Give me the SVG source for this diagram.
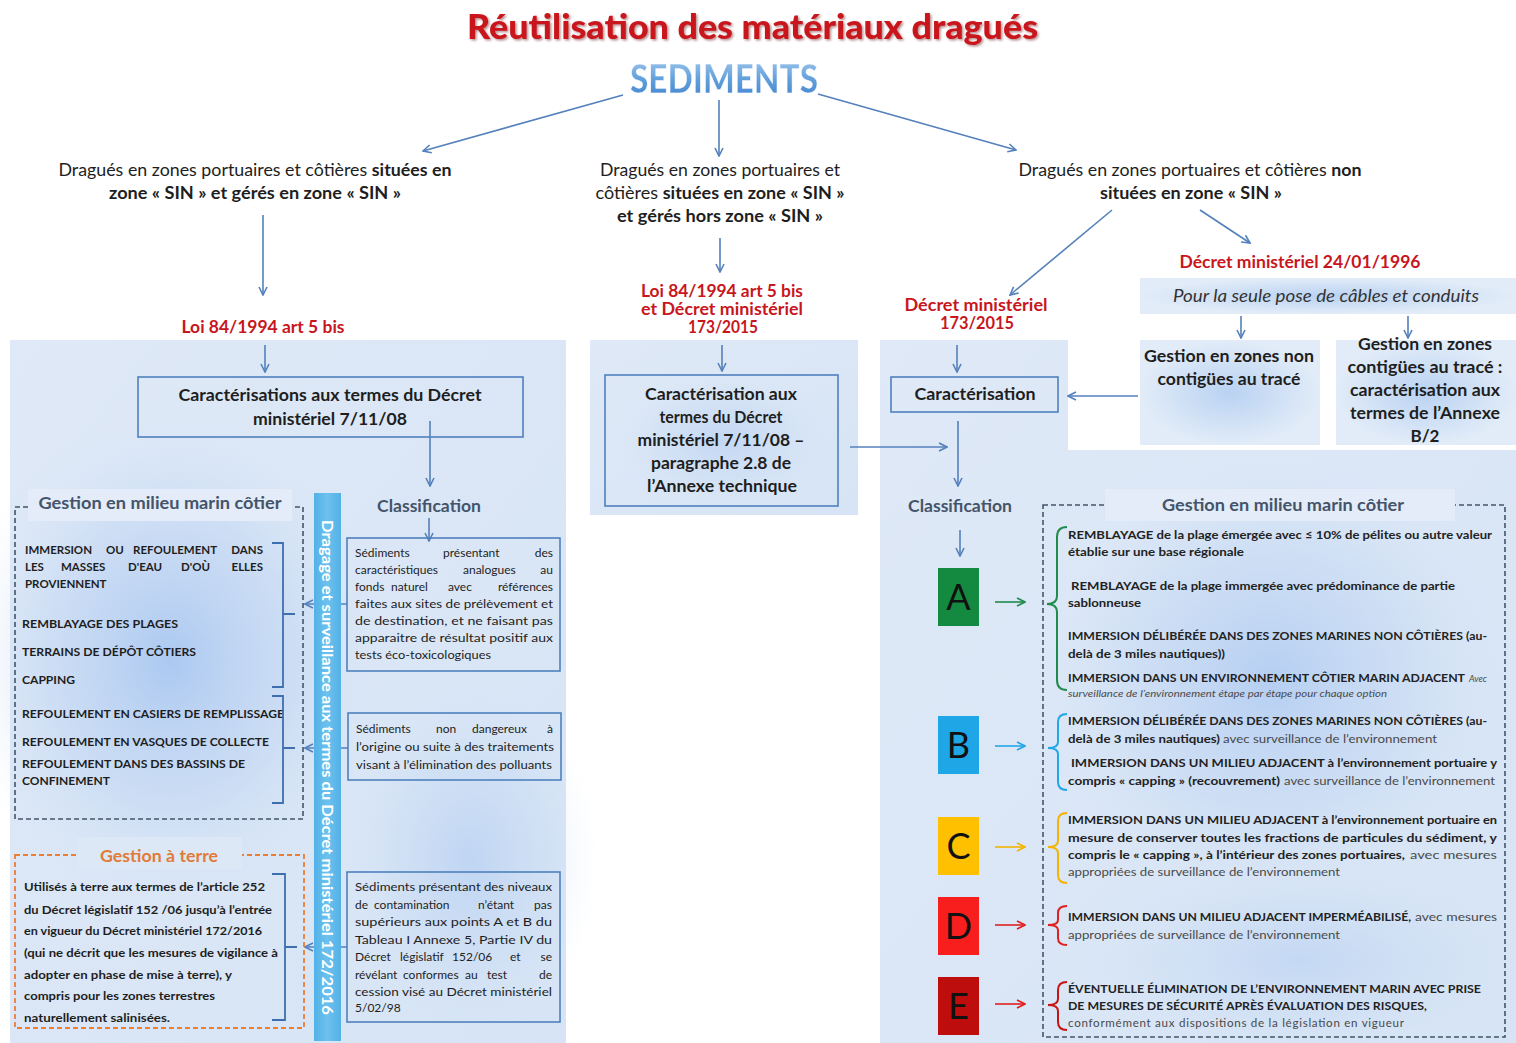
<svg xmlns="http://www.w3.org/2000/svg" width="1516" height="1043" viewBox="0 0 1516 1043">
  <style>
    text { font-family: Lato, "Liberation Sans", sans-serif; fill: #1e1e1e; }
    .b { font-weight: 700; }
    .red { fill: #c8161d; font-weight: 700; font-size: 16.5px; text-anchor: middle; }
    .hd { fill: #44546a; font-weight: 700; font-size: 17px; text-anchor: middle; }
    .top { font-size: 16.5px; text-anchor: middle; }
    .bx { font-size: 17px; font-weight: 700; text-anchor: middle; }
    .box { fill: none; stroke: #4f81bd; stroke-width: 1.6; }
    .cap { font-size: 11.5px; font-weight: 700; }
    .sm { font-size: 12px; }
    .rt { font-size: 11.6px; font-weight: 700; fill: #222; }
    .rn { font-size: 11.6px; font-weight: 400; fill: #4a4a4a; }
    .con { fill: none; stroke: #5481bb; stroke-width: 1.6; }
    .brk { fill: none; stroke: #3d6fae; stroke-width: 1.8; }
    .e { text-anchor: end; }
    .letter { font-size: 36px; text-anchor: middle; fill: #111; }
  </style>
  <defs>
    <marker id="ah" viewBox="0 0 10 10" refX="9" refY="5" markerWidth="10" markerHeight="10" markerUnits="userSpaceOnUse" orient="auto">
      <path d="M1,1 L9,5 L1,9" fill="none" stroke="#5481bb" stroke-width="1.6"/>
    </marker>
    <marker id="ahA" viewBox="0 0 10 10" refX="9" refY="5" markerWidth="10" markerHeight="10" markerUnits="userSpaceOnUse" orient="auto">
      <path d="M1,1 L9,5 L1,9" fill="none" stroke="#1f8b4c" stroke-width="1.6"/>
    </marker>
    <marker id="ahB" viewBox="0 0 10 10" refX="9" refY="5" markerWidth="10" markerHeight="10" markerUnits="userSpaceOnUse" orient="auto">
      <path d="M1,1 L9,5 L1,9" fill="none" stroke="#22a7e6" stroke-width="1.6"/>
    </marker>
    <marker id="ahC" viewBox="0 0 10 10" refX="9" refY="5" markerWidth="10" markerHeight="10" markerUnits="userSpaceOnUse" orient="auto">
      <path d="M1,1 L9,5 L1,9" fill="none" stroke="#f2b400" stroke-width="1.6"/>
    </marker>
    <marker id="ahD" viewBox="0 0 10 10" refX="9" refY="5" markerWidth="10" markerHeight="10" markerUnits="userSpaceOnUse" orient="auto">
      <path d="M1,1 L9,5 L1,9" fill="none" stroke="#e02020" stroke-width="1.6"/>
    </marker>
    <linearGradient id="panel" x1="0" y1="0" x2="1" y2="1">
      <stop offset="0" stop-color="#dfe9f7"/>
      <stop offset="1" stop-color="#d6e4f5"/>
    </linearGradient>
    <radialGradient id="blob">
      <stop offset="0" stop-color="#a3c3f0" stop-opacity="0.85"/>
      <stop offset="0.6" stop-color="#bcd3f2" stop-opacity="0.45"/>
      <stop offset="1" stop-color="#d8e6f6" stop-opacity="0"/>
    </radialGradient>
    <radialGradient id="soft">
      <stop offset="0" stop-color="#b9d2f2"/>
      <stop offset="1" stop-color="#e2ecf8"/>
    </radialGradient>
    <linearGradient id="sed" x1="0" y1="0" x2="0" y2="1">
      <stop offset="0" stop-color="#a9cdef"/>
      <stop offset="0.55" stop-color="#5f9edb"/>
      <stop offset="1" stop-color="#3f82cc"/>
    </linearGradient>
    <linearGradient id="bar" x1="0" y1="0" x2="1" y2="0">
      <stop offset="0" stop-color="#53b1e6"/>
      <stop offset="0.5" stop-color="#6cc1ee"/>
      <stop offset="1" stop-color="#53b1e6"/>
    </linearGradient>
    <filter id="tshadow" x="-5%" y="-20%" width="110%" height="150%">
      <feDropShadow dx="1.5" dy="1.5" stdDeviation="1.2" flood-color="#5a0a0a" flood-opacity="0.45"/>
    </filter>
    <filter id="glow" x="-10%" y="-30%" width="120%" height="160%">
      <feDropShadow dx="0" dy="0" stdDeviation="1.5" flood-color="#ffffff" flood-opacity="1"/>
    </filter>
  </defs>

  <rect width="1516" height="1043" fill="#ffffff"/>

  <!-- background panels -->
  <g id="panels">
    <rect x="10" y="340" width="556" height="703" fill="url(#panel)"/>
    <ellipse cx="170" cy="660" rx="210" ry="250" fill="url(#blob)"/>
    <ellipse cx="470" cy="860" rx="130" ry="180" fill="url(#blob)" opacity="0.55"/>
    <rect x="590" y="340" width="268" height="175" fill="url(#panel)"/>
    <ellipse cx="722" cy="440" rx="110" ry="70" fill="url(#blob)" opacity="0.5"/>
    <path d="M880,340 H1068 V450 H1516 V1043 H880 Z" fill="url(#panel)"/>
    <ellipse cx="1270" cy="680" rx="240" ry="230" fill="url(#blob)" opacity="0.8"/>
    <ellipse cx="1300" cy="960" rx="230" ry="100" fill="url(#blob)" opacity="0.45"/>
    <rect x="1140" y="278" width="376" height="36" fill="url(#soft)"/>
    <rect x="1140" y="340" width="180" height="105" fill="url(#soft)"/>
    <rect x="1336" y="340" width="180" height="105" fill="url(#soft)"/>
  </g>

  <!-- title -->
  <g id="title">
    <text x="467" y="39" font-size="34" font-weight="900" textLength="571" lengthAdjust="spacingAndGlyphs" style="fill:#c8161d" filter="url(#tshadow)">Réutilisation des matériaux dragués</text>
  </g>
  <g id="sediments">
    <text x="630" y="93" font-size="40" font-weight="900" textLength="188" lengthAdjust="spacingAndGlyphs" style="fill:url(#sed)" stroke="#ffffff" stroke-width="0.5" filter="url(#glow)">SEDIMENTS</text>
  </g>

  <!-- connectors -->
  <g id="connectors">
    <line class="con" x1="623" y1="95" x2="423" y2="151" marker-end="url(#ah)"/>
    <line class="con" x1="719" y1="100" x2="719" y2="156" marker-end="url(#ah)"/>
    <line class="con" x1="818" y1="94" x2="1016" y2="150" marker-end="url(#ah)"/>
    <line class="con" x1="263" y1="215" x2="263" y2="295" marker-end="url(#ah)"/>
    <line class="con" x1="265" y1="345" x2="265" y2="372" marker-end="url(#ah)"/>
    <line class="con" x1="430" y1="421" x2="430" y2="486" marker-end="url(#ah)"/>
    <line class="con" x1="429" y1="518" x2="429" y2="541" marker-end="url(#ah)"/>
    <line class="con" x1="347" y1="604" x2="305" y2="604" marker-end="url(#ah)"/>
    <line class="con" x1="348" y1="748" x2="305" y2="748" marker-end="url(#ah)"/>
    <line class="con" x1="347" y1="947" x2="305" y2="947" marker-end="url(#ah)"/>
    <line class="con" x1="720" y1="238" x2="720" y2="272" marker-end="url(#ah)"/>
    <line class="con" x1="722" y1="345" x2="722" y2="371" marker-end="url(#ah)"/>
    <line class="con" x1="850" y1="447" x2="947" y2="447" marker-end="url(#ah)"/>
    <line class="con" x1="1112" y1="210" x2="1010" y2="295" marker-end="url(#ah)"/>
    <line class="con" x1="1200" y1="210" x2="1250" y2="243" marker-end="url(#ah)"/>
    <line class="con" x1="1241" y1="316" x2="1241" y2="338" marker-end="url(#ah)"/>
    <line class="con" x1="1408" y1="316" x2="1408" y2="338" marker-end="url(#ah)"/>
    <line class="con" x1="957" y1="345" x2="957" y2="372" marker-end="url(#ah)"/>
    <line class="con" x1="1138" y1="396" x2="1068" y2="396" marker-end="url(#ah)"/>
    <line class="con" x1="958" y1="421" x2="958" y2="486" marker-end="url(#ah)"/>
    <line class="con" x1="960" y1="530" x2="960" y2="556" marker-end="url(#ah)"/>
    <line x1="995" y1="602" x2="1025" y2="602" stroke="#1f8b4c" stroke-width="1.6" marker-end="url(#ahA)"/>
    <line x1="995" y1="746" x2="1025" y2="746" stroke="#22a7e6" stroke-width="1.6" marker-end="url(#ahB)"/>
    <line x1="995" y1="847" x2="1025" y2="847" stroke="#f2b400" stroke-width="1.6" marker-end="url(#ahC)"/>
    <line x1="995" y1="925" x2="1025" y2="925" stroke="#e02020" stroke-width="1.6" marker-end="url(#ahD)"/>
    <line x1="995" y1="1004" x2="1025" y2="1004" stroke="#e02020" stroke-width="1.6" marker-end="url(#ahD)"/>
  </g>

  <!-- branch: SIN / SIN -->
  <g id="branch-left">
    <text class="top" x="255" y="176" textLength="393" lengthAdjust="spacingAndGlyphs">Dragués en zones portuaires et côtières <tspan class="b">situées en</tspan></text>
    <text class="top b" x="255" y="199" textLength="292" lengthAdjust="spacingAndGlyphs">zone « SIN » et gérés en zone « SIN »</text>
    <text class="red" x="263" y="333" textLength="163" lengthAdjust="spacingAndGlyphs">Loi 84/1994 art 5 bis</text>
  </g>

  <g id="carac-left">
    <rect class="box" x="138" y="377" width="385" height="60"/>
    <text class="bx" x="330" y="401" textLength="303" lengthAdjust="spacingAndGlyphs">Caractérisations aux termes du Décret</text>
    <text class="bx" x="330" y="425" textLength="154" lengthAdjust="spacingAndGlyphs">ministériel 7/11/08</text>
  </g>

  <g id="classification-left">
    <text class="hd" x="429" y="512" textLength="104" lengthAdjust="spacingAndGlyphs">Classification</text>
  </g>

  <g id="bar-172">
    <rect x="314" y="493" width="27" height="548" fill="url(#bar)"/>
    <text transform="translate(322,520) rotate(90)" font-size="15.5" font-weight="700" textLength="495" lengthAdjust="spacingAndGlyphs" style="fill:#ffffff">Dragage et surveillance aux termes du Décret ministériel 172/2016</text>
  </g>

  <g id="marin-left">
    <rect x="15" y="507" width="288" height="312" fill="none" stroke="#44546a" stroke-width="1.6" stroke-dasharray="5,3"/>
    <rect x="28" y="489" width="264" height="32" fill="#e3ecf8"/>
    <text class="hd" x="160" y="509" textLength="243" lengthAdjust="spacingAndGlyphs">Gestion en milieu marin côtier</text>
    <text class="cap" y="554"><tspan x="25">IMMERSION</tspan> <tspan x="106">OU</tspan> <tspan x="133">REFOULEMENT</tspan> <tspan class="e" x="263">DANS</tspan></text>
    <text class="cap" y="571"><tspan x="25">LES</tspan> <tspan x="61">MASSES</tspan> <tspan x="128">D'EAU</tspan> <tspan x="181">D'OÙ</tspan> <tspan class="e" x="263">ELLES</tspan></text>
    <text class="cap" x="25" y="588">PROVIENNENT</text>
    <text class="cap" x="22" y="628" textLength="156" lengthAdjust="spacingAndGlyphs">REMBLAYAGE DES PLAGES</text>
    <text class="cap" x="22" y="656" textLength="174" lengthAdjust="spacingAndGlyphs">TERRAINS DE DÉPÔT CÔTIERS</text>
    <text class="cap" x="22" y="684" textLength="53" lengthAdjust="spacingAndGlyphs">CAPPING</text>
    <text class="cap" x="22" y="718" textLength="262" lengthAdjust="spacingAndGlyphs">REFOULEMENT EN CASIERS DE REMPLISSAGE</text>
    <text class="cap" x="22" y="746" textLength="247" lengthAdjust="spacingAndGlyphs">REFOULEMENT EN  VASQUES DE COLLECTE</text>
    <text class="cap" x="22" y="768" textLength="223" lengthAdjust="spacingAndGlyphs">REFOULEMENT  DANS DES BASSINS DE</text>
    <text class="cap" x="22" y="785" textLength="88" lengthAdjust="spacingAndGlyphs">CONFINEMENT</text>
    <path class="brk" d="M272,543 H283 V687 H272 M283,614 H295"/>
    <path class="brk" d="M272,696 H283 V803 H272 M283,748 H295"/>
  </g>

  <g id="terre-left">
    <rect x="15" y="855" width="289" height="173" fill="none" stroke="#ed7d31" stroke-width="1.8" stroke-dasharray="5,3"/>
    <rect x="78" y="837" width="164" height="32" fill="#dde8f6"/>
    <text x="159" y="862" font-size="17" font-weight="700" text-anchor="middle" textLength="118" lengthAdjust="spacingAndGlyphs" style="fill:#e07b39">Gestion à terre</text>
    <text class="cap" x="24" y="891" textLength="241" lengthAdjust="spacingAndGlyphs">Utilisés à terre aux termes de l’article 252</text>
    <text class="cap" x="24" y="914" textLength="248" lengthAdjust="spacingAndGlyphs">du Décret législatif 152 /06 jusqu’à l’entrée</text>
    <text class="cap" x="24" y="935" textLength="238" lengthAdjust="spacingAndGlyphs">en vigueur du Décret ministériel 172/2016</text>
    <text class="cap" x="24" y="957" textLength="254" lengthAdjust="spacingAndGlyphs">(qui ne décrit que les mesures de vigilance à</text>
    <text class="cap" x="24" y="979" textLength="208" lengthAdjust="spacingAndGlyphs">adopter en phase de mise à terre), y</text>
    <text class="cap" x="24" y="1000" textLength="191" lengthAdjust="spacingAndGlyphs">compris pour les zones terrestres</text>
    <text class="cap" x="24" y="1022" textLength="146" lengthAdjust="spacingAndGlyphs">naturellement salinisées.</text>
    <path class="brk" d="M272,874 H285 V1020 H272 M285,947 H297"/>
  </g>

  <g id="class-box-1">
    <rect class="box" x="347" y="538" width="213" height="133"/>
    <text class="sm" y="557"><tspan x="355">Sédiments</tspan> <tspan x="443">présentant</tspan> <tspan class="e" x="553">des</tspan></text>
    <text class="sm" y="574"><tspan x="355">caractéristiques</tspan> <tspan x="463">analogues</tspan> <tspan class="e" x="553">au</tspan></text>
    <text class="sm" y="591"><tspan x="355">fonds</tspan> <tspan x="391">naturel</tspan> <tspan x="448">avec</tspan> <tspan class="e" x="553">références</tspan></text>
    <text class="sm" x="355" y="608" textLength="198" lengthAdjust="spacingAndGlyphs">faites aux sites de prélèvement et</text>
    <text class="sm" x="355" y="625" textLength="198" lengthAdjust="spacingAndGlyphs">de destination, et ne faisant pas</text>
    <text class="sm" x="355" y="642" textLength="198" lengthAdjust="spacingAndGlyphs">apparaitre de résultat positif aux</text>
    <text class="sm" x="355" y="659" textLength="136" lengthAdjust="spacingAndGlyphs">tests éco-toxicologiques</text>
  </g>

  <g id="class-box-2">
    <rect class="box" x="348" y="713" width="213" height="67"/>
    <text class="sm" y="733"><tspan x="356">Sédiments</tspan> <tspan x="436">non</tspan> <tspan x="472">dangereux</tspan> <tspan class="e" x="553">à</tspan></text>
    <text class="sm" x="356" y="751" textLength="198" lengthAdjust="spacingAndGlyphs">l’origine ou suite à des traitements</text>
    <text class="sm" x="356" y="769" textLength="196" lengthAdjust="spacingAndGlyphs">visant à l’élimination des polluants</text>
  </g>

  <g id="class-box-3">
    <rect class="box" x="347" y="872" width="213" height="150"/>
    <text class="sm" x="355" y="891" textLength="197" lengthAdjust="spacingAndGlyphs">Sédiments présentant des niveaux</text>
    <text class="sm" y="909"><tspan x="355">de</tspan> <tspan x="374">contamination</tspan> <tspan x="478">n’étant</tspan> <tspan class="e" x="552">pas</tspan></text>
    <text class="sm" x="355" y="926" textLength="197" lengthAdjust="spacingAndGlyphs">supérieurs aux points A et B du</text>
    <text class="sm" x="355" y="944" textLength="197" lengthAdjust="spacingAndGlyphs">Tableau I Annexe 5, Partie IV du</text>
    <text class="sm" y="961"><tspan x="355">Décret</tspan> <tspan x="400">législatif</tspan> <tspan x="452">152/06</tspan> <tspan x="510">et</tspan> <tspan class="e" x="552">se</tspan></text>
    <text class="sm" y="979"><tspan x="355">révélant</tspan> <tspan x="403">conformes</tspan> <tspan x="465">au</tspan> <tspan x="487">test</tspan> <tspan class="e" x="552">de</tspan></text>
    <text class="sm" x="355" y="996" textLength="197" lengthAdjust="spacingAndGlyphs">cession visé au Décret ministériel</text>
    <text class="sm" x="355" y="1012">5/02/98</text>
  </g>

  <!-- branch: SIN / hors SIN -->
  <g id="branch-middle">
    <text class="top" x="720" y="176" textLength="240" lengthAdjust="spacingAndGlyphs">Dragués en zones portuaires et</text>
    <text class="top" x="720" y="199" textLength="249" lengthAdjust="spacingAndGlyphs">côtières <tspan class="b">situées en zone « SIN »</tspan></text>
    <text class="top b" x="720" y="222" textLength="206" lengthAdjust="spacingAndGlyphs">et gérés hors zone « SIN »</text>
    <text class="red" x="722" y="297" textLength="162" lengthAdjust="spacingAndGlyphs">Loi 84/1994 art 5 bis</text>
    <text class="red" x="722" y="315" textLength="162" lengthAdjust="spacingAndGlyphs">et Décret ministériel</text>
    <text class="red" x="723" y="333" textLength="70" lengthAdjust="spacingAndGlyphs">173/2015</text>
  </g>

  <g id="carac-middle">
    <rect class="box" x="605" y="375" width="233" height="131"/>
    <text class="bx" x="721" y="400" textLength="152" lengthAdjust="spacingAndGlyphs">Caractérisation aux</text>
    <text class="bx" x="721" y="423" textLength="123" lengthAdjust="spacingAndGlyphs">termes du Décret</text>
    <text class="bx" x="721" y="446" textLength="167" lengthAdjust="spacingAndGlyphs">ministériel 7/11/08 –</text>
    <text class="bx" x="721" y="469" textLength="140" lengthAdjust="spacingAndGlyphs">paragraphe 2.8 de</text>
    <text class="bx" x="722" y="492" textLength="150" lengthAdjust="spacingAndGlyphs">l’Annexe technique</text>
  </g>

  <!-- branch: hors SIN -->
  <g id="branch-right">
    <text class="top" x="1190" y="176" textLength="343" lengthAdjust="spacingAndGlyphs">Dragués en zones portuaires et côtières <tspan class="b">non</tspan></text>
    <text class="top b" x="1191" y="199" textLength="182" lengthAdjust="spacingAndGlyphs">situées en zone « SIN »</text>
    <text class="red" x="1300" y="268" textLength="241" lengthAdjust="spacingAndGlyphs">Décret ministériel 24/01/1996</text>
    <text class="red" x="976" y="311" textLength="143" lengthAdjust="spacingAndGlyphs">Décret ministériel</text>
    <text class="red" x="977" y="329" textLength="74" lengthAdjust="spacingAndGlyphs">173/2015</text>
  </g>

  <g id="cables">
    <text x="1326" y="302" font-size="17" font-style="italic" text-anchor="middle" textLength="306" lengthAdjust="spacingAndGlyphs" style="fill:#333">Pour la seule pose de câbles et conduits</text>
  </g>

  <g id="non-contigues">
    <text class="bx" x="1229" y="362" textLength="170" lengthAdjust="spacingAndGlyphs">Gestion en zones non</text>
    <text class="bx" x="1229" y="385" textLength="143" lengthAdjust="spacingAndGlyphs">contigües au tracé</text>
  </g>

  <g id="contigues">
    <text class="bx" x="1425" y="350" textLength="134" lengthAdjust="spacingAndGlyphs">Gestion en zones</text>
    <text class="bx" x="1425" y="373" textLength="155" lengthAdjust="spacingAndGlyphs">contigües au tracé :</text>
    <text class="bx" x="1425" y="396" textLength="150" lengthAdjust="spacingAndGlyphs">caractérisation aux</text>
    <text class="bx" x="1425" y="419" textLength="150" lengthAdjust="spacingAndGlyphs">termes de l’Annexe</text>
    <text class="bx" x="1425" y="442">B/2</text>
  </g>

  <g id="carac-right">
    <rect class="box" x="891" y="377" width="167" height="35"/>
    <text class="bx" x="975" y="400" textLength="121" lengthAdjust="spacingAndGlyphs">Caractérisation</text>
  </g>

  <g id="classification-right">
    <text class="hd" x="960" y="512" textLength="104" lengthAdjust="spacingAndGlyphs">Classification</text>
  </g>

  <!-- classes A to E -->
  <g id="class-A">
    <rect x="938" y="568" width="41" height="58" fill="#148a40"/>
    <text class="letter" x="958.5" y="610">A</text>
  </g>
  <g id="class-B">
    <rect x="938" y="716" width="41" height="58" fill="#1ea6e6"/>
    <text class="letter" x="958.5" y="758">B</text>
  </g>
  <g id="class-C">
    <rect x="938" y="817" width="41" height="58" fill="#ffc000"/>
    <text class="letter" x="958.5" y="859">C</text>
  </g>
  <g id="class-D">
    <rect x="938" y="897" width="41" height="58" fill="#f91e1e"/>
    <text class="letter" x="958.5" y="939">D</text>
  </g>
  <g id="class-E">
    <rect x="938" y="977" width="41" height="58" fill="#bd0d0d"/>
    <text class="letter" x="958.5" y="1019">E</text>
  </g>

  <g id="marin-right">
    <rect x="1043" y="505" width="462" height="532" fill="none" stroke="#44546a" stroke-width="1.6" stroke-dasharray="5,3"/>
    <rect x="1105" y="489" width="350" height="32" fill="#e3ecf8"/>
    <text class="hd" x="1283" y="511" textLength="242" lengthAdjust="spacingAndGlyphs">Gestion en milieu marin côtier</text>

    <path d="M1067,527 Q1057,527 1057,537 L1057,596 Q1057,604 1047,604 Q1057,604 1057,612 L1057,680 Q1057,690 1067,690" fill="none" stroke="#1f8b4c" stroke-width="2"/>
    <text class="rt" x="1068" y="539" textLength="424" lengthAdjust="spacingAndGlyphs">REMBLAYAGE de la plage émergée avec ≤ 10% de pélites ou autre valeur</text>
    <text class="rt" x="1068" y="556" textLength="176" lengthAdjust="spacingAndGlyphs">établie sur une base régionale</text>
    <text class="rt" x="1071" y="590" textLength="384" lengthAdjust="spacingAndGlyphs">REMBLAYAGE de la plage immergée avec prédominance de partie</text>
    <text class="rt" x="1068" y="607" textLength="73" lengthAdjust="spacingAndGlyphs">sablonneuse</text>
    <text class="rt" x="1068" y="640" textLength="419" lengthAdjust="spacingAndGlyphs">IMMERSION DÉLIBÉRÉE DANS DES ZONES MARINES NON CÔTIÈRES (au-</text>
    <text class="rt" x="1068" y="658" textLength="157" lengthAdjust="spacingAndGlyphs">delà de 3 miles nautiques))</text>
    <text class="rt" x="1068" y="682" textLength="397" lengthAdjust="spacingAndGlyphs">IMMERSION DANS UN ENVIRONNEMENT CÔTIER MARIN ADJACENT</text>
    <text x="1469" y="682" font-size="9" font-style="italic" style="fill:#4a4a4a">Avec</text>
    <text x="1068" y="697" font-size="9.5" font-style="italic" textLength="319" lengthAdjust="spacingAndGlyphs" style="fill:#4a4a4a">surveillance de l’environnement étape par étape pour chaque option</text>

    <path d="M1067,714 Q1058,714 1058,722 L1058,742 Q1058,748 1048,748 Q1058,748 1058,754 L1058,782 Q1058,790 1067,790" fill="none" stroke="#22a7e6" stroke-width="2"/>
    <text class="rt" x="1068" y="725" textLength="419" lengthAdjust="spacingAndGlyphs">IMMERSION DÉLIBÉRÉE DANS DES ZONES MARINES NON CÔTIÈRES (au-</text>
    <text class="rt" x="1068" y="743" textLength="152" lengthAdjust="spacingAndGlyphs">delà de 3 miles nautiques)</text>
    <text class="rn" x="1223" y="743" textLength="214" lengthAdjust="spacingAndGlyphs">avec surveillance de l’environnement</text>
    <text class="rt" x="1071" y="767" textLength="426" lengthAdjust="spacingAndGlyphs">IMMERSION DANS UN MILIEU ADJACENT à l’environnement portuaire y</text>
    <text class="rt" x="1068" y="785" textLength="212" lengthAdjust="spacingAndGlyphs">compris « capping » (recouvrement)</text>
    <text class="rn" x="1284" y="785" textLength="211" lengthAdjust="spacingAndGlyphs">avec surveillance de l’environnement</text>

    <path d="M1067,813 Q1058,813 1058,821 L1058,841 Q1058,847 1048,847 Q1058,847 1058,853 L1058,875 Q1058,883 1067,883" fill="none" stroke="#f2b400" stroke-width="2"/>
    <text class="rt" x="1068" y="824" textLength="429" lengthAdjust="spacingAndGlyphs">IMMERSION DANS UN MILIEU ADJACENT à l’environnement portuaire en</text>
    <text class="rt" x="1068" y="842" textLength="429" lengthAdjust="spacingAndGlyphs">mesure de conserver toutes les fractions de particules du sédiment, y</text>
    <text class="rt" x="1068" y="859" textLength="337" lengthAdjust="spacingAndGlyphs">compris le « capping », à l’intérieur des zones portuaires,</text>
    <text class="rn" x="1410" y="859" textLength="87" lengthAdjust="spacingAndGlyphs">avec mesures</text>
    <text class="rn" x="1068" y="876" textLength="272" lengthAdjust="spacingAndGlyphs">appropriées de surveillance de l’environnement</text>

    <path d="M1067,906 Q1058,906 1058,913 L1058,920 Q1058,925 1048,925 Q1058,925 1058,930 L1058,938 Q1058,945 1067,945" fill="none" stroke="#e02020" stroke-width="2"/>
    <text class="rt" x="1068" y="921" textLength="343" lengthAdjust="spacingAndGlyphs">IMMERSION DANS UN MILIEU ADJACENT IMPERMÉABILISÉ,</text>
    <text class="rn" x="1415" y="921" textLength="82" lengthAdjust="spacingAndGlyphs">avec mesures</text>
    <text class="rn" x="1068" y="939" textLength="272" lengthAdjust="spacingAndGlyphs">appropriées de surveillance de l’environnement</text>

    <path d="M1067,982 Q1058,982 1058,990 L1058,999 Q1058,1005 1048,1005 Q1058,1005 1058,1011 L1058,1022 Q1058,1030 1067,1030" fill="none" stroke="#c81414" stroke-width="2"/>
    <text class="rt" x="1068" y="993" textLength="413" lengthAdjust="spacingAndGlyphs">ÉVENTUELLE ÉLIMINATION DE L’ENVIRONNEMENT MARIN AVEC PRISE</text>
    <text class="rt" x="1068" y="1010" textLength="359" lengthAdjust="spacingAndGlyphs">DE MESURES DE SÉCURITÉ APRÈS ÉVALUATION DES RISQUES,</text>
    <text class="rn" x="1068" y="1027" textLength="336" lengthAdjust="spacing">conformément aux dispositions de la législation en vigueur</text>
  </g>
</svg>
